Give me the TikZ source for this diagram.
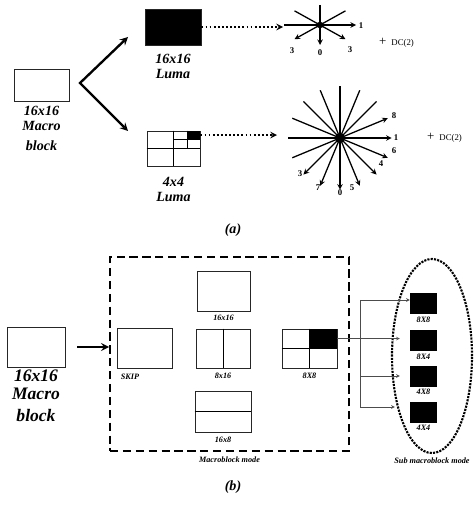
\documentclass[tikz,border=0pt]{standalone}
\usepackage{fontspec}
\setmainfont{Liberation Serif}
\usetikzlibrary{positioning,calc,shapes.geometric}

\begin{document}
\begin{tikzpicture}[x=0.03cm, y=-0.03cm,
        blk/.style={draw=black!85, thick, minimum width=1.65cm, minimum height=1.2cm, inner sep=0pt},
        lbl/.style={font=\bfseries\itshape\fontsize{12}{13}\selectfont, align=center, inner sep=1pt},
        tag/.style={font=\bfseries\itshape\fontsize{7}{7}\selectfont, inner sep=1pt},
        num/.style={font=\bfseries\fontsize{7.5}{7.5}\selectfont, inner sep=0pt},
        dc/.style={font=\fontsize{7.5}{7.5}\selectfont, anchor=west},
        ray/.style={->, line width=1.1pt},
        >=stealth
    ]
        \useasboundingbox (0,0) rectangle (473,508);

        % (a) Macroblock and luma predictions
        \node[blk, minimum width=1.65cm, minimum height=0.96cm] (mbA) at (41.5,85) {};
        \node[lbl, below=0.1cm of mbA] (mbAtxt) {16x16\\Macro\\[4pt]block};

        \coordinate (fork) at (80,83);
        \coordinate (upTip) at (128,37);
        \coordinate (dnTip) at (128,131);
        \draw[<->, line width=2pt, line join=miter] (upTip) -- (fork) -- (dnTip);

        \node[blk, fill=black, minimum width=1.68cm, minimum height=1.08cm] (luma16) at (173,27) {};
        \node[lbl, below=0.22cm of luma16] (luma16txt) {16x16\\Luma};

        \node[blk, minimum width=1.59cm, minimum height=1.05cm] (luma4) at (173.5,148.5) {};
        \coordinate (q) at ($(luma4.north)!0.5!(luma4.east)$);
        \coordinate (qq) at ($(q)!0.5!(luma4.north east)$);
        \fill (q) rectangle (luma4.north east);
        \draw (luma4.north) -- (luma4.south);
        \draw (luma4.west) -- (luma4.east);
        \draw (q |- luma4.north) -- (q |- luma4.center);
        \draw (q -| luma4.center) -- (q -| luma4.east);
        \node[lbl, below=0.27cm of luma4] (luma4txt) {4x4\\Luma};

        % 16x16 modes
        \coordinate (s1) at (320,25);
        \coordinate (s1in) at (283,25);
        \draw[->, dotted, line width=1.5pt] (luma16.east) -- (luma16.east -| s1in);
        \foreach \a in {0,-45,-90,-135}
            \draw[ray] ([shift={(\a+180:1.08cm and 0.6cm)}]s1) -- ([shift={(\a:1.08cm and 0.6cm)}]s1);
        \fill (s1) circle (0.1cm);
        \node[num] (m1a) at (361,26) {1};
        \node[num] (m1b) at (320,53) {0};
        \node[num] (m1c) at (292,51) {3};
        \node[num] (m1d) at (350,50) {3};
        \node[dc] (dc1) at (375,43) {{\fontsize{11}{11}\selectfont +}\hspace{0.15cm}DC(2)};

        % 4x4 modes
        \coordinate (s2) at (340,138);
        \coordinate (s2in) at (277,138);
        \draw[->, dotted, line width=1.5pt] (qq -| luma4.east) -- (qq -| s2in);
        \foreach \a in {0,22.5,-22.5,-45,-67.5,-90,-112.5,-135}
            \draw[ray] ([shift={(\a+180:1.55cm)}]s2) -- ([shift={(\a:1.55cm)}]s2);
        \fill (s2) circle (0.15cm);
        \node[num] (m2a) at (394,116) {8};
        \node[num] (m2b) at (396,138) {1};
        \node[num] (m2c) at (394,151) {6};
        \node[num] (m2d) at (381,164) {4};
        \node[num] (m2e) at (352,188) {5};
        \node[num] (m2f) at (340,193) {0};
        \node[num] (m2g) at (318,188) {7};
        \node[num] (m2h) at (300,174) {3};
        \node[dc] (dc2) at (423,138) {{\fontsize{11}{11}\selectfont +}\hspace{0.15cm}DC(2)};

        \node[font=\bfseries\itshape\fontsize{12}{12}\selectfont] (capA) at (233,230) {(a)};

        % (b) Macroblock and sub macroblock modes
        \node[blk, minimum width=1.74cm, minimum height=1.2cm] (mbB) at (36,347) {};
        \node[lbl, font=\bfseries\itshape\fontsize{15}{16}\selectfont, below=0.02cm of mbB] (mbBtxt) {16x16\\Macro\\[2pt]block};

        \node[draw, line width=1.5pt, dash pattern=on 7pt off 4pt, minimum width=7.17cm, minimum height=5.82cm, inner sep=0pt] (modes) at (229.5,354) {};
        \draw[->, line width=2pt] ([xshift=0.36cm]mbB.east) -- (mbB.east -| modes.west);
        \node[tag, below=0.12cm of modes] (modestxt) {Macroblock mode};

        \node[blk] (skip) at (144.5,348) {};
        \node[tag] (skiptxt) at (130,377) {SKIP};

        \node[blk, minimum width=1.59cm] (m16x16) at (223.5,291) {};
        \node[tag, below=0.08cm of m16x16] (m16x16txt) {16x16};

        \node[blk, minimum width=1.62cm, minimum height=1.17cm] (m8x16) at (223,348.5) {};
        \draw (m8x16.north) -- (m8x16.south);
        \node[tag, below=0.08cm of m8x16] (m8x16txt) {8x16};

        \node[blk, minimum width=1.68cm, minimum height=1.23cm] (m16x8) at (223,411.5) {};
        \draw (m16x8.west) -- (m16x8.east);
        \node[tag, below=0.08cm of m16x8] (m16x8txt) {16x8};

        \node[blk, minimum height=1.17cm] (m8x8) at (309.5,348.5) {};
        \fill (m8x8.north) rectangle (m8x8.east);
        \draw (m8x8.north) -- (m8x8.south);
        \draw (m8x8.west) -- (m8x8.east);
        \node[tag, below=0.08cm of m8x8] (m8x8txt) {8X8};

        % sub macroblock modes
        \node[ellipse, draw, densely dotted, line width=1.8pt, minimum width=2.4cm, minimum height=5.82cm, inner sep=0pt] (sub) at (432,356) {};
        \node[tag, below=0.08cm of sub] (subtxt) {Sub macroblock mode};

        \foreach \n/\y in {8X8/303.5, 8X4/340.5, 4X8/376, 4X4/412} {
            \node[fill=black, minimum width=0.81cm, minimum height=0.63cm, inner sep=0pt] (s\n) at (423.5,\y) {};
            \node[tag, below=0.03cm of s\n] (t\n) {\n};
        }

        \coordinate (bk1) at (360,300);
        \coordinate (bk3) at (360,376);
        \coordinate (bk4) at (360,407);
        \coordinate (q8) at ($(m8x8.north east)!0.5!(m8x8.center)$);
        \draw[black!70] (bk1) -- (bk4);
        \draw[->, black!70] (bk1) -- (bk1 -| s8X8.west);
        \draw[->, black!70, shorten >=0.3cm] (q8 -| m8x8.east) -- (q8 -| s8X4.west);
        \draw[->, black!70, shorten >=0.3cm] (bk3) -- (bk3 -| s4X8.west);
        \draw[->, black!70, shorten >=0.45cm] (bk4) -- (bk4 -| s4X4.west);

        \node[font=\bfseries\itshape\fontsize{12}{12}\selectfont] (capB) at (233,487) {(b)};
    \end{tikzpicture}
\end{document}
